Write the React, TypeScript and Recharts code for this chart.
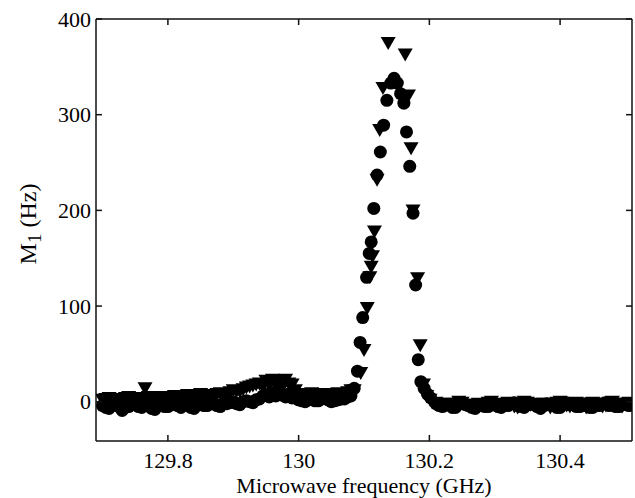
import React from 'react';
import { ScatterChart, Scatter, XAxis, YAxis } from 'recharts';

// shared sweep grid on both sides of the resonance
const leftFreq = [
  129.700, 129.705, 129.710, 129.715, 129.720, 129.725, 129.730, 129.735, 129.740, 129.745,
  129.750, 129.755, 129.760, 129.765, 129.770, 129.775, 129.780, 129.785, 129.790, 129.795,
  129.800, 129.805, 129.810, 129.815, 129.820, 129.825, 129.830, 129.835, 129.840, 129.845,
  129.850, 129.855, 129.860, 129.865, 129.870, 129.875, 129.880, 129.885, 129.890, 129.895,
  129.900, 129.905, 129.910, 129.915, 129.920, 129.925, 129.930, 129.935, 129.940, 129.945,
  129.950, 129.955, 129.960, 129.965, 129.970, 129.975, 129.980, 129.985, 129.990, 129.995,
  130.000, 130.005, 130.010, 130.015, 130.020, 130.025, 130.030, 130.035, 130.040, 130.045,
  130.050, 130.055, 130.060, 130.065, 130.070, 130.075, 130.080,
];
const rightFreq = [
  130.210, 130.215, 130.220, 130.225, 130.230, 130.235, 130.240, 130.245, 130.250, 130.255,
  130.260, 130.265, 130.270, 130.275, 130.280, 130.285, 130.290, 130.295, 130.300, 130.305,
  130.310, 130.315, 130.320, 130.325, 130.330, 130.335, 130.340, 130.345, 130.350, 130.355,
  130.360, 130.365, 130.370, 130.375, 130.380, 130.385, 130.390, 130.395, 130.400, 130.405,
  130.410, 130.415, 130.420, 130.425, 130.430, 130.435, 130.440, 130.445, 130.450, 130.455,
  130.460, 130.465, 130.470, 130.475, 130.480, 130.485, 130.490, 130.495, 130.500, 130.505,
  130.510,
];

// circles
const circleLeftM1 = [
  -4, -6, -7, -3, -3, -5, -9, -6, -5, -3,
  -2, -5, -6, -3, -4, -7, -8, -4, -3, -5,
  -5, -3, -2, -4, -6, -2, -3, -6, -7, -3,
  -2, -4, -4, -2, -1, -4, -5, -2, -2, -1,
  0, -2, -3, 0, 1, 0, -1, 2, 3, 6,
  8, 5, 9, 6, 10, 7, 5, 8, 4, 7,
  2, 1, 0, 2, 3, 1, 1, 3, 4, 2,
  0, 1, 2, 3, 3, 5, 6,
];
const circlePeakFreq = [
  130.085, 130.090, 130.094, 130.098, 130.104, 130.108, 130.111, 130.115, 130.120, 130.125,
  130.130, 130.135, 130.141, 130.146, 130.151, 130.156, 130.161, 130.165, 130.170, 130.175,
  130.179, 130.183, 130.187, 130.192, 130.197, 130.202,
];
const circlePeakM1 = [
  14, 32, 62, 88, 130, 155, 167, 202, 237, 261,
  289, 315, 333, 338, 333, 322, 312, 282, 246, 197,
  122, 44, 21, 14, 8, 4,
];
const circleRightM1 = [
  -2, -4, -5, -3, -3, -6, -6, -2, -1, -3,
  -4, -6, -7, -4, -3, -5, -5, -2, -2, -5,
  -6, -3, -4, -2, -1, -4, -5, -6, -3, -2,
  -3, -5, -7, -4, -2, -3, -4, -6, -6, -2,
  -1, -3, -3, -5, -5, -4, -2, -6, -6, -3,
  -4, -2, -1, -4, -3, -5, -5, -3, -2, -4,
  -3,
];

// down triangles
const triLeftM1 = [
  2, 3, 4, 3, 1, 2, 3, 4, 5, 3,
  2, 4, 4, 14, 5, 4, 3, 4, 5, 4,
  2, 4, 6, 5, 4, 5, 7, 6, 5, 6,
  8, 7, 6, 7, 7, 8, 9, 8, 8, 10,
  12, 11, 11, 13, 15, 16, 17, 18, 19, 16,
  22, 18, 23, 17, 22, 15, 23, 19, 18, 12,
  8, 7, 6, 8, 9, 7, 7, 8, 8, 6,
  6, 8, 9, 8, 8, 10, 12,
];
const triPeakFreq = [
  130.085, 130.095, 130.100, 130.105, 130.109, 130.111, 130.113, 130.116, 130.120, 130.124,
  130.129, 130.137, 130.163, 130.168, 130.172, 130.175, 130.182, 130.186, 130.191, 130.196,
  130.201,
];
const triPeakM1 = [
  12, 30, 54, 98, 130, 141, 152, 178, 232, 284,
  328, 375, 363, 320, 265, 200, 129, 59, 18, 6,
  2,
];
const triRightM1 = [
  -1, -3, -4, -2, -2, -5, -4, 0, -1, -3,
  -5, -6, -3, -2, -4, -4, -1, 0, -3, -5,
  -4, -2, -1, -3, -5, -6, -2, 0, -1, -3,
  -4, -5, -2, -2, -3, -6, -5, -1, 0, -2,
  -4, -5, -3, -1, -2, -4, -6, -3, -1, -2,
  -3, -5, -4, -1, 0, -2, -4, -5, -2, -1,
  -2,
];

const xDomain = [129.69, 130.51];
const yDomain = [-41, 400];
const xTicks = [129.8, 130, 130.2, 130.4];
const yTicks = [0, 100, 200, 300, 400];

const pairs = (fs: number[], ms: number[]) => fs.map((f, i) => ({ f, m: ms[i] }));
const circleData = [
  ...pairs(leftFreq, circleLeftM1),
  ...pairs(circlePeakFreq, circlePeakM1),
  ...pairs(rightFreq, circleRightM1),
];
const triData = [
  ...pairs(leftFreq, triLeftM1),
  ...pairs(triPeakFreq, triPeakM1),
  ...pairs(rightFreq, triRightM1),
];

const W = 635;
const H = 498;
const M = { top: 19, right: 3, bottom: 0, left: 0 };
const Y_W = 96;
const X_H = 57;
const PLOT = { left: M.left + Y_W, top: M.top, right: W - M.right, bottom: H - M.bottom - X_H };
const TICK = 6;
const INK = '#111';

const Dot = (props: any) => <circle cx={props.cx} cy={props.cy} r={6.5} fill="#000" />;
const DownTri = (props: any) => {
  const { cx, cy } = props;
  return <polygon points={`${cx - 7.5},${cy - 6} ${cx + 7.5},${cy - 6} ${cx},${cy + 7}`} fill="#000" />;
};

// bottom tick: label plus inward marks on bottom and top edges
const XTick = (props: any) => {
  const { x, payload } = props;
  return (
    <g>
      <line x1={x} x2={x} y1={PLOT.bottom} y2={PLOT.bottom - TICK} stroke={INK} strokeWidth={1.5} />
      <line x1={x} x2={x} y1={PLOT.top} y2={PLOT.top + TICK} stroke={INK} strokeWidth={1.5} />
      <text x={x} y={PLOT.bottom + 27} textAnchor="middle" fill="#000" fontSize={22}>{payload.value}</text>
    </g>
  );
};

// left tick: label plus inward marks on left and right edges
const YTick = (props: any) => {
  const { y, payload } = props;
  return (
    <g>
      <line x1={PLOT.left} x2={PLOT.left + TICK} y1={y} y2={y} stroke={INK} strokeWidth={1.5} />
      <line x1={PLOT.right} x2={PLOT.right - TICK} y1={y} y2={y} stroke={INK} strokeWidth={1.5} />
      <text x={PLOT.left - 5} y={y} dy="0.35em" textAnchor="end" fill="#000" fontSize={22}>{payload.value}</text>
    </g>
  );
};

// x title, and the top / right edges of the axes box
const XTitle = () => (
  <g>
    <line x1={PLOT.left} x2={PLOT.right} y1={PLOT.top} y2={PLOT.top} stroke={INK} strokeWidth={1.5} />
    <line x1={PLOT.right} x2={PLOT.right} y1={PLOT.top} y2={PLOT.bottom} stroke={INK} strokeWidth={1.5} />
    <text x={(PLOT.left + PLOT.right) / 2} y={H - 5} textAnchor="middle" fill="#000" fontSize={22}>
      Microwave frequency (GHz)
    </text>
  </g>
);

const YTitle = () => {
  const cx = 30;
  const cy = (PLOT.top + PLOT.bottom) / 2 - 6;
  return (
    <text x={cx} y={cy} transform={`rotate(-90, ${cx}, ${cy})`} textAnchor="middle" fill="#000" fontSize={24} dominantBaseline="middle">
      M<tspan dy={7} fontSize={19}>1</tspan><tspan dy={-7}> (Hz)</tspan>
    </text>
  );
};

export default function App() {
  return (
    <div style={{ width: W, height: H, fontFamily: '"Liberation Serif", serif', background: '#fff' }}>
      <style>{`body{margin:0}`}</style>
      <ScatterChart width={W} height={H} margin={M}>
        <XAxis
          type="number"
          dataKey="f"
          domain={xDomain}
          ticks={xTicks}
          allowDataOverflow
          height={X_H}
          stroke={INK}
          strokeWidth={1.5}
          tickLine={false}
          tick={<XTick />}
          label={<XTitle />}
        />
        <YAxis
          type="number"
          dataKey="m"
          domain={yDomain}
          ticks={yTicks}
          allowDataOverflow
          width={Y_W}
          stroke={INK}
          strokeWidth={1.5}
          tickLine={false}
          tick={<YTick />}
          label={<YTitle />}
        />
        <Scatter data={triData} shape={DownTri} isAnimationActive={false} />
        <Scatter data={circleData} shape={Dot} isAnimationActive={false} />
      </ScatterChart>
    </div>
  );
}
